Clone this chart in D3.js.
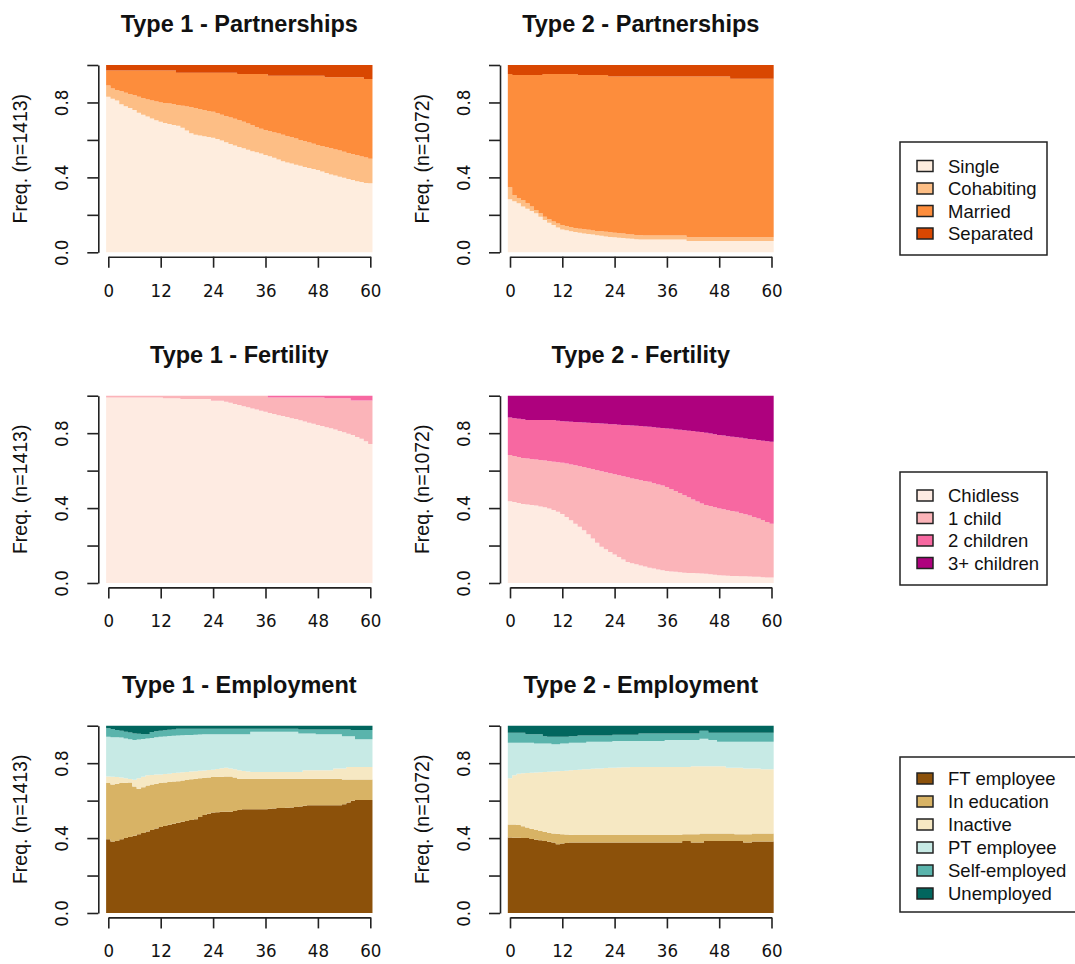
<!DOCTYPE html>
<html>
<head>
<meta charset="utf-8">
<script src="https://cdn.jsdelivr.net/npm/d3@7"></script>
<style>
  body { margin: 0; background: #fff; }
  svg { display: block; }
  text { font-family: "Liberation Sans", Arial, sans-serif; fill: #111; }
</style>
</head>
<body>
<svg id="chart"></svg>
<script>
// months since start of the window
const months = d3.range(0, 61);
const xTicks = [0, 12, 24, 36, 48, 60];
const yTicks = [0, 0.2, 0.4, 0.6, 0.8, 1];
const yLabelled = [0, 0.4, 0.8];

// state labels and colours
const partStates = ["Single", "Cohabiting", "Married", "Separated"];
const partColors = ["#FEEDDE", "#FDBE85", "#FD8D3C", "#D94701"];
const fertStates = ["Chidless", "1 child", "2 children", "3+ children"];
const fertColors = ["#FEEBE2", "#FBB4B9", "#F768A1", "#AE017E"];
const empStates = ["FT employee", "In education", "Inactive", "PT employee", "Self-employed", "Unemployed"];
const empColors = ["#8C510A", "#D8B365", "#F6E8C3", "#C7EAE5", "#5AB4AC", "#01665E"];

// cumulative frequency at the top of each state, month 0..60 (last state fills up to 1)
// Type 1 - Partnerships (n=1413)
const t1Single = [.83,.82,.81,.79,.78,.77,.76,.745,.735,.725,
  .715,.705,.697,.69,.685,.68,.675,.665,.65,.635,
  .627,.623,.62,.616,.612,.605,.597,.588,.578,.57,
  .562,.555,.548,.54,.534,.527,.52,.513,.505,.495,
  .486,.48,.474,.468,.462,.456,.45,.445,.44,.432,
  .424,.416,.41,.404,.398,.392,.386,.38,.375,.37,.368];
const t1Cohab = [.89,.875,.867,.86,.852,.845,.838,.83,.822,.816,
  .81,.805,.8,.797,.794,.79,.786,.782,.778,.774,
  .77,.765,.76,.755,.75,.743,.735,.727,.72,.713,
  .706,.697,.688,.678,.668,.66,.653,.646,.64,.634,
  .627,.62,.614,.607,.6,.593,.586,.58,.573,.567,
  .561,.555,.549,.543,.537,.53,.524,.518,.512,.506,.5];
const t1Married = [.97,.97,.97,.97,.97,.97,.97,.97,.97,.97,
  .97,.97,.97,.97,.97,.97,.959,.959,.959,.959,
  .959,.959,.959,.959,.959,.959,.959,.959,.959,.959,
  .952,.952,.952,.952,.952,.952,.952,.943,.943,.943,
  .943,.943,.943,.943,.943,.943,.943,.943,.943,.943,
  .934,.934,.934,.934,.934,.934,.934,.934,.934,.925,.925];

// Type 2 - Partnerships (n=1072)
const t2Single = [.283,.272,.262,.245,.232,.22,.208,.19,.172,.158,
  .146,.132,.122,.118,.113,.108,.105,.101,.098,.095,
  .091,.088,.085,.082,.08,.078,.076,.074,.072,.07,
  .068,.068,.068,.068,.068,.068,.068,.068,.068,.068,
  .068,.06,.06,.06,.06,.06,.06,.06,.06,.06,
  .06,.06,.06,.06,.06,.06,.06,.06,.06,.06,.06];
const t2Cohab = [.347,.306,.29,.279,.262,.244,.226,.208,.19,.176,
  .164,.154,.146,.14,.135,.13,.126,.123,.12,.117,
  .114,.112,.11,.107,.105,.102,.1,.097,.095,.093,
  .091,.09,.09,.09,.09,.09,.09,.09,.09,.09,
  .09,.08,.08,.08,.08,.08,.08,.08,.08,.08,
  .08,.08,.08,.08,.08,.08,.08,.08,.08,.08,.08];
const t2Married = [.952,.947,.947,.947,.947,.947,.947,.947,.952,.952,
  .952,.952,.952,.952,.952,.952,.947,.947,.947,.947,
  .947,.947,.947,.938,.938,.938,.938,.938,.938,.938,
  .938,.938,.938,.938,.938,.938,.938,.938,.938,.938,
  .938,.938,.938,.938,.938,.938,.938,.938,.938,.938,
  .938,.926,.926,.926,.926,.926,.926,.926,.926,.926,.926];

// Type 1 - Fertility
const t1Childless = [.99,.99,.99,.99,.99,.99,.99,.99,.99,.99,
  .99,.99,.99,.987,.987,.987,.987,.982,.982,.982,
  .982,.982,.982,.982,.973,.973,.973,.968,.962,.956,
  .95,.944,.938,.932,.926,.92,.914,.908,.902,.896,
  .891,.886,.88,.875,.869,.862,.856,.85,.843,.838,
  .832,.826,.82,.812,.805,.797,.79,.78,.77,.757,.742];
const t1OneChild = [1,1,1,1,1,1,1,1,1,1,
  1,1,1,1,1,1,1,1,1,1,
  1,1,1,1,1,1,1,1,1,1,
  1,1,1,1,1,1,1,.991,.991,.991,
  .991,.991,.991,.991,.991,.991,.991,.991,.991,.991,
  .986,.986,.986,.986,.986,.986,.974,.974,.974,.974,.974];
const t1TwoChild = [1,1,1,1,1,1,1,1,1,1,
  1,1,1,1,1,1,1,1,1,1,
  1,1,1,1,1,1,1,1,1,1,
  1,1,1,1,1,1,1,1,1,1,
  1,1,1,1,1,1,1,1,1,1,
  1,1,1,1,1,1,1,1,1,1,1];

// Type 2 - Fertility
const t2Childless = [.437,.432,.427,.422,.419,.416,.414,.409,.404,.398,
  .39,.38,.368,.353,.335,.317,.3,.282,.26,.237,
  .215,.193,.18,.166,.152,.139,.125,.112,.106,.1,
  .094,.088,.082,.077,.072,.068,.064,.062,.06,.057,
  .055,.054,.053,.052,.051,.05,.047,.044,.041,.04,
  .039,.038,.037,.036,.036,.035,.034,.033,.031,.03,.029];
const t2OneChild = [.683,.678,.673,.668,.665,.662,.66,.657,.654,.651,
  .648,.645,.642,.638,.633,.629,.624,.619,.613,.608,
  .602,.597,.591,.586,.581,.575,.57,.564,.558,.554,
  .549,.545,.54,.533,.526,.52,.513,.502,.491,.48,
  .469,.458,.446,.435,.424,.417,.411,.404,.398,.394,
  .389,.385,.38,.373,.367,.36,.353,.345,.336,.326,.317];
const t2TwoChild = [.884,.88,.877,.874,.87,.87,.87,.87,.87,.87,
  .87,.866,.863,.862,.861,.86,.858,.857,.856,.854,
  .853,.851,.85,.848,.847,.845,.844,.842,.841,.839,
  .838,.836,.834,.831,.829,.827,.825,.823,.82,.818,
  .816,.813,.811,.808,.806,.802,.798,.794,.79,.787,
  .784,.781,.778,.775,.772,.769,.766,.763,.76,.757,.754];

// Type 1 - Employment
const t1Ft = [.394,.382,.385,.394,.4,.406,.412,.42,.427,.435,
  .443,.451,.459,.465,.471,.477,.482,.487,.491,.496,
  .5,.512,.523,.53,.536,.538,.54,.541,.541,.545,
  .55,.554,.554,.554,.554,.554,.554,.556,.558,.56,
  .561,.562,.563,.566,.569,.572,.575,.575,.575,.575,
  .575,.575,.575,.575,.581,.59,.599,.603,.603,.603,.603];
const t1Edu = [.694,.686,.69,.694,.696,.697,.675,.663,.672,.681,
  .686,.69,.694,.697,.7,.702,.704,.707,.71,.714,
  .717,.72,.722,.724,.726,.727,.728,.729,.729,.723,
  .717,.717,.717,.717,.717,.717,.717,.717,.717,.717,
  .717,.717,.717,.717,.717,.717,.717,.717,.717,.717,
  .717,.717,.717,.717,.713,.713,.713,.713,.713,.713,.713];
const t1Inact = [.729,.727,.726,.724,.72,.716,.711,.72,.728,.735,
  .737,.739,.74,.742,.744,.747,.749,.751,.753,.755,
  .757,.759,.761,.763,.765,.769,.773,.776,.772,.767,
  .762,.758,.755,.753,.753,.753,.753,.753,.753,.753,
  .753,.753,.753,.753,.753,.762,.762,.762,.762,.762,
  .762,.762,.771,.771,.771,.78,.78,.78,.78,.78,.78];
const t1Pt = [.941,.939,.938,.937,.932,.927,.923,.926,.929,.932,
  .935,.938,.941,.943,.945,.946,.948,.949,.95,.951,
  .952,.953,.954,.955,.955,.955,.955,.955,.955,.955,
  .955,.955,.955,.968,.968,.968,.968,.968,.968,.968,
  .968,.968,.968,.968,.959,.959,.959,.959,.955,.955,
  .955,.955,.955,.955,.944,.944,.944,.927,.927,.927,.927];
const t1Self = [.986,.982,.977,.973,.968,.964,.959,.957,.956,.955,
  .966,.97,.973,.976,.978,.98,.984,.984,.984,.984,
  .984,.984,.984,.984,.984,.984,.984,.984,.984,.984,
  .984,.984,.984,.984,.984,.984,.984,.984,.984,.984,
  .984,.984,.984,.984,.98,.98,.98,.98,.98,.98,
  .98,.98,.98,.98,.98,.98,.977,.977,.977,.977,.977];

// Type 2 - Employment
const t2Ft = [.403,.402,.402,.401,.4,.395,.391,.388,.385,.38,
  .376,.367,.371,.374,.376,.376,.376,.376,.376,.376,
  .376,.376,.376,.376,.376,.376,.376,.376,.376,.376,
  .376,.376,.376,.376,.376,.376,.376,.376,.376,.376,
  .385,.385,.376,.376,.376,.385,.385,.385,.385,.385,
  .385,.385,.385,.385,.376,.376,.382,.382,.382,.382,.382];
const t2Edu = [.473,.472,.47,.463,.457,.45,.443,.438,.434,.429,
  .425,.423,.421,.419,.418,.417,.416,.416,.416,.416,
  .416,.416,.416,.416,.416,.416,.416,.416,.416,.416,
  .416,.416,.416,.416,.416,.416,.416,.416,.416,.416,
  .421,.421,.421,.421,.425,.425,.425,.425,.425,.425,
  .425,.425,.421,.421,.421,.421,.425,.425,.425,.425,.425];
const t2Inact = [.72,.735,.744,.746,.748,.749,.75,.752,.753,.754,
  .756,.757,.758,.76,.762,.763,.765,.767,.768,.77,
  .771,.772,.774,.775,.776,.777,.778,.778,.779,.78,
  .78,.78,.78,.78,.78,.78,.78,.78,.78,.78,
  .78,.78,.783,.783,.783,.783,.783,.783,.783,.783,
  .776,.776,.776,.776,.771,.771,.771,.771,.767,.767,.767];
const t2Pt = [.909,.909,.909,.909,.909,.909,.905,.905,.905,.905,
  .901,.901,.905,.905,.909,.909,.909,.909,.914,.914,
  .914,.914,.914,.914,.918,.918,.918,.918,.918,.918,
  .918,.918,.918,.918,.918,.918,.923,.923,.923,.923,
  .923,.923,.923,.923,.93,.93,.923,.923,.914,.914,
  .914,.914,.914,.914,.914,.914,.914,.914,.914,.914,.914];
const t2Self = [.962,.962,.962,.962,.955,.955,.955,.955,.944,.941,
  .941,.941,.941,.941,.944,.944,.948,.948,.948,.948,
  .948,.948,.948,.948,.952,.952,.952,.952,.952,.952,
  .959,.959,.959,.959,.959,.959,.959,.959,.959,.959,
  .959,.959,.959,.959,.973,.973,.962,.962,.962,.962,
  .962,.962,.962,.962,.962,.962,.962,.962,.962,.962,.962];

const width = 1075;
const height = 964;

function createAxis(svg, scaleX, scaleY, axisX, n) {
  const [yBottom, yTop] = scaleY.range();

  const gx = svg.append("g")
    .attr("transform", `translate(0, ${yBottom + 4.4})`)
    .call(d3.axisBottom(scaleX).tickValues(xTicks).tickSize(11).tickSizeOuter(0));
  gx.select(".domain").attr("stroke", "#222").attr("stroke-width", 1.6);
  gx.selectAll(".tick line").attr("stroke", "#222").attr("stroke-width", 1.6);
  gx.selectAll("text")
    .attr("y", 40)
    .attr("dy", null)
    .style("font-family", "\"DejaVu Sans Condensed\", \"DejaVu Sans\", sans-serif")
    .style("font-size", "18.5px")
    .style("fill", "#111");

  const gy = svg.append("g")
    .attr("transform", `translate(${axisX}, 0)`)
    .call(d3.axisLeft(scaleY).tickValues(yTicks).tickSize(11).tickSizeOuter(0)
      .tickFormat(d => yLabelled.includes(d) ? d3.format(".1f")(d) : ""));
  gy.select(".domain").attr("stroke", "#222").attr("stroke-width", 1.6);
  gy.selectAll(".tick line").attr("stroke", "#222").attr("stroke-width", 1.6);
  gy.selectAll("text")
    .attr("transform", "rotate(-90)")
    .attr("x", 0)
    .attr("y", -30)
    .attr("dy", null)
    .style("text-anchor", "middle")
    .style("font-family", "\"DejaVu Sans Condensed\", \"DejaVu Sans\", sans-serif")
    .style("font-size", "18.5px")
    .style("fill", "#111");

  svg.append("text")
    .attr("transform", `translate(${axisX - 71.5}, ${(yBottom + yTop) / 2}) rotate(-90)`)
    .attr("text-anchor", "middle")
    .style("font-size", "19.5px")
    .text(`Freq. (n=${n})`);
}

function drawPanel(svg, panel) {
  const scaleX = d3.scaleLinear().domain([0, 60]).range(panel.xRange);
  const scaleY = d3.scaleLinear().domain([0, 1]).range([panel.top + 187.3, panel.top]);

  // one step per month, each month covers [m - 0.5, m + 0.5]
  const pts = months.map(m => ({ x: m - 0.5, i: m })).concat([{ x: 60.5, i: 60 }]);
  const nLayers = panel.tops.length + 1;

  for (let k = 0; k < nLayers; k++) {
    const lower = k === 0 ? () => 0 : i => panel.tops[k - 1][i];
    const upper = k === nLayers - 1 ? () => 1 : i => panel.tops[k][i];
    const area = d3.area()
      .curve(d3.curveStepAfter)
      .x(d => scaleX(d.x))
      .y0(d => scaleY(lower(d.i)))
      .y1(d => scaleY(upper(d.i)));
    svg.append("path")
      .datum(pts)
      .attr("d", area)
      .attr("fill", panel.colors[k])
      .attr("stroke", "none");
  }

  createAxis(svg, scaleX, scaleY, panel.xRange[0] - 10, panel.n);

  svg.append("text")
    .attr("x", (panel.xRange[0] + panel.xRange[1]) / 2)
    .attr("y", panel.top - 32.7)
    .attr("text-anchor", "middle")
    .style("font-size", "23.5px")
    .style("font-weight", "bold")
    .text(panel.title);
}

function drawLegend(svg, states, colors, box, rowY, step) {
  svg.append("rect")
    .attr("x", box.x).attr("y", box.y)
    .attr("width", box.w).attr("height", box.h)
    .attr("fill", "none")
    .attr("stroke", "#222")
    .attr("stroke-width", 1.5);

  states.forEach((s, i) => {
    const cy = rowY + i * step;
    svg.append("rect")
      .attr("x", 917).attr("y", cy - 5.5)
      .attr("width", 16).attr("height", 11)
      .attr("fill", colors[i])
      .attr("stroke", "#222")
      .attr("stroke-width", 1.5);
    svg.append("text")
      .attr("x", 948).attr("y", cy)
      .attr("dominant-baseline", "central")
      .style("font-size", "18.5px")
      .text(s);
  });
}

const svg = d3.select("#chart").attr("width", width).attr("height", height);

const leftX = [108.3, 370.3];
const rightX = [510, 771.5];
const rowTops = [65, 395.7, 725.7];

const panels = [
  { title: "Type 1 - Partnerships", n: 1413, xRange: leftX, top: rowTops[0], colors: partColors, tops: [t1Single, t1Cohab, t1Married] },
  { title: "Type 2 - Partnerships", n: 1072, xRange: rightX, top: rowTops[0], colors: partColors, tops: [t2Single, t2Cohab, t2Married] },
  { title: "Type 1 - Fertility", n: 1413, xRange: leftX, top: rowTops[1], colors: fertColors, tops: [t1Childless, t1OneChild, t1TwoChild] },
  { title: "Type 2 - Fertility", n: 1072, xRange: rightX, top: rowTops[1], colors: fertColors, tops: [t2Childless, t2OneChild, t2TwoChild] },
  { title: "Type 1 - Employment", n: 1413, xRange: leftX, top: rowTops[2], colors: empColors, tops: [t1Ft, t1Edu, t1Inact, t1Pt, t1Self] },
  { title: "Type 2 - Employment", n: 1072, xRange: rightX, top: rowTops[2], colors: empColors, tops: [t2Ft, t2Edu, t2Inact, t2Pt, t2Self] }
];

panels.forEach(p => drawPanel(svg, p));

drawLegend(svg, partStates, partColors, { x: 900, y: 142, w: 147, h: 113 }, 166, 22.5);
drawLegend(svg, fertStates, fertColors, { x: 900, y: 472, w: 147, h: 113 }, 495.5, 22.5);
drawLegend(svg, empStates, empColors, { x: 900, y: 757, w: 185, h: 155 }, 778.5, 23);
</script>
</body>
</html>
